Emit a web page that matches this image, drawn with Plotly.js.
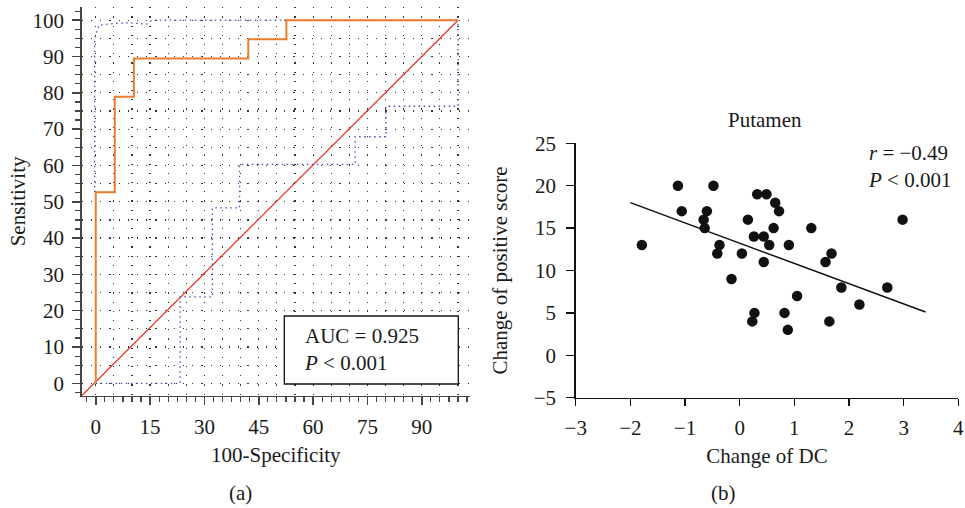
<!DOCTYPE html>
<html>
<head>
<meta charset="utf-8">
<script src="https://cdn.plot.ly/plotly-3.0.1.min.js"></script>
<style>html,body{margin:0;padding:0;background:#fff;}#chart{width:965px;height:508px;}</style>
</head>
<body>
<div id="chart"></div>
<script>
// ---- Panel (a): ROC curve ----
const rocFPR = [0, 0, 5.26, 10.53, 42.11, 52.63, 100];
const rocTPR = [0, 52.63, 78.95, 89.47, 94.74, 100, 100];
const ciUpperFPR = [-0.3, -0.3, 0.9, 5, 9, 14, 15.5, 100];
const ciUpperTPR = [52.6, 95, 98.6, 99.1, 99.3, 98.9, 100, 100];
const ciLowerFPR = [0, 23.3, 32.2, 39.7, 71.6, 80.1, 100];
const ciLowerTPR = [0, 23.8, 48.3, 60.3, 67.9, 76.3, 100];
const chanceX = [-3.87, 100];
const chanceY = [-3.41, 100];
const aucText = "AUC = 0.925";

// ---- Panel (b): Putamen scatter ----
const dcChange = [-1.79, -1.13, -1.06, -0.66, -0.64, -0.60, -0.48, -0.41, -0.37, -0.15,
                  0.04, 0.15, 0.23, 0.26, 0.27, 0.32, 0.44, 0.44, 0.49, 0.54,
                  0.62, 0.65, 0.72, 0.82, 0.88, 0.90, 1.05, 1.31, 1.57, 1.64,
                  1.68, 1.86, 2.19, 2.70, 2.98];
const scoreChange = [13, 20, 17, 16, 15, 17, 20, 12, 13, 9,
                     12, 16, 4, 14, 5, 19, 14, 11, 19, 13,
                     15, 18, 17, 5, 3, 13, 7, 15, 11, 4,
                     12, 8, 6, 8, 16];
const fitX = [-2.0, 3.4];
const fitY = [18.0, 5.1];

const FONT = 'Liberation Serif, "Times New Roman", serif';
const FS = 21;
const TXT = '#1a1a1a';
const f = () => ({family: FONT, size: FS, color: TXT});

const traces = [
  {x: chanceX, y: chanceY, xaxis: 'x', yaxis: 'y', mode: 'lines',
   line: {color: '#E8352B', width: 1.3}, hoverinfo: 'skip'},
  {x: ciUpperFPR, y: ciUpperTPR, xaxis: 'x', yaxis: 'y', mode: 'lines',
   line: {color: '#4152C0', width: 1.3, dash: '1.5px,3.5px'}},
  {x: ciLowerFPR, y: ciLowerTPR, xaxis: 'x', yaxis: 'y', mode: 'lines',
   line: {color: '#4152C0', width: 1.3, dash: '1.5px,3.5px', shape: 'hv'}},
  {x: rocFPR, y: rocTPR, xaxis: 'x', yaxis: 'y', mode: 'lines',
   line: {color: '#EC7D2E', width: 2, shape: 'hv'}},
  {x: [null], y: [null], xaxis: 'x3', yaxis: 'y3', mode: 'markers', hoverinfo: 'skip'},
  {x: fitX, y: fitY, xaxis: 'x2', yaxis: 'y2', mode: 'lines',
   line: {color: '#111', width: 1.5}},
  {x: dcChange, y: scoreChange, xaxis: 'x2', yaxis: 'y2', mode: 'markers',
   marker: {color: '#111', size: 10.5}}
];

const leftX = [0.0847, 0.4870];
const leftY = [0.221, 0.986];
const xRangeA = [chanceX[0], 103.3];
const yRangeA = [chanceY[0], 103.6];

const layout = {
  width: 965, height: 508,
  margin: {l: 0, r: 0, t: 0, b: 0},
  paper_bgcolor: '#fff', plot_bgcolor: 'rgba(0,0,0,0)',
  showlegend: false,
  font: f(),
  xaxis: {
    domain: leftX, anchor: 'y', range: xRangeA,
    tickmode: 'linear', tick0: 0, dtick: 15,
    ticks: 'outside', ticklen: 8, tickwidth: 1.5, tickcolor: '#444',
    minor: {tickmode: 'linear', tick0: 0, dtick: 2.5, ticks: 'outside', ticklen: 5, tickwidth: 1.2, tickcolor: '#444', showgrid: false},
    showline: true, linecolor: '#444', linewidth: 1.5,
    showgrid: false, zeroline: false, ticklabelstandoff: 4,
    tickfont: f(),
    title: {text: '100-Specificity', standoff: 9, font: f()}
  },
  yaxis: {
    domain: leftY, anchor: 'x', range: yRangeA,
    tickmode: 'linear', tick0: 0, dtick: 10,
    ticks: 'outside', ticklen: 8, tickwidth: 1.5, tickcolor: '#444',
    minor: {tickmode: 'linear', tick0: 0, dtick: 2.5, ticks: 'outside', ticklen: 5, tickwidth: 1.2, tickcolor: '#444', showgrid: false},
    showline: true, linecolor: '#444', linewidth: 1.5,
    showgrid: false, zeroline: false, ticklabelstandoff: 4,
    tickfont: f(),
    title: {text: 'Sensitivity', standoff: 1, font: f()}
  },
  xaxis3: {
    overlaying: 'x', anchor: 'y3', range: xRangeA,
    tickmode: 'linear', tick0: 0, dtick: 5,
    showgrid: true, gridcolor: '#333', gridwidth: 1.2, griddash: '1.2px,8px',
    showticklabels: false, ticks: '', showline: false, zeroline: false
  },
  yaxis3: {
    overlaying: 'y', anchor: 'x3', range: yRangeA,
    tickmode: 'linear', tick0: 0, dtick: 5,
    showgrid: true, gridcolor: '#333', gridwidth: 1.2, griddash: '1.2px,8px',
    showticklabels: false, ticks: '', showline: false, zeroline: false
  },
  xaxis2: {
    domain: [0.5966, 0.9931], anchor: 'y2', range: [-3, 4],
    tickmode: 'linear', tick0: 0, dtick: 1,
    ticks: 'outside', ticklen: 7, tickwidth: 1.5, tickcolor: '#111',
    showline: true, linecolor: '#111', linewidth: 1.5,
    showgrid: false, zeroline: false, ticklabelstandoff: 4,
    tickfont: f(),
    title: {text: 'Change of DC', standoff: 9, font: f()}
  },
  yaxis2: {
    domain: [0.2171, 0.7179], anchor: 'x2', range: [-5, 25],
    tickmode: 'linear', tick0: 0, dtick: 5,
    ticks: 'outside', ticklen: 8, tickwidth: 1.5, tickcolor: '#111',
    showline: true, linecolor: '#111', linewidth: 1.5,
    showgrid: false, zeroline: false, ticklabelstandoff: 6,
    tickfont: f(),
    title: {text: 'Change of positive score', standoff: 20, font: f()}
  },
  shapes: [
    {type: 'rect', xref: 'paper', yref: 'paper',
     x0: 284.3/965, x1: 458.3/965, y0: 1 - 384/508, y1: 1 - 316/508,
     line: {color: '#111', width: 1.3}, fillcolor: '#fff', layer: 'above'}
  ],
  annotations: [
    {xref: 'paper', yref: 'paper', x: 302/965, y: 1 - 349/508, xanchor: 'left', yanchor: 'middle',
     align: 'left', showarrow: false,
     text: aucText + '<br><i>P</i> &lt; 0.001', font: f()},
    {xref: 'paper', yref: 'paper', x: 765/965, y: 1 - 120/508, xanchor: 'center', yanchor: 'middle',
     showarrow: false, text: 'Putamen', font: f()},
    {xref: 'paper', yref: 'paper', x: 953/965, y: 1 - 166/508, xanchor: 'right', yanchor: 'middle',
     align: 'left', showarrow: false,
     text: '<i>r</i> = \u22120.49<br><i>P</i> &lt; 0.001', font: f()},
    {xref: 'paper', yref: 'paper', x: 240/965, y: 1 - 493/508, xanchor: 'center', yanchor: 'middle',
     showarrow: false, text: '(a)', font: f()},
    {xref: 'paper', yref: 'paper', x: 723/965, y: 1 - 493/508, xanchor: 'center', yanchor: 'middle',
     showarrow: false, text: '(b)', font: f()}
  ]
};

Plotly.newPlot('chart', traces, layout, {staticPlot: true, displayModeBar: false});
</script>
</body>
</html>
